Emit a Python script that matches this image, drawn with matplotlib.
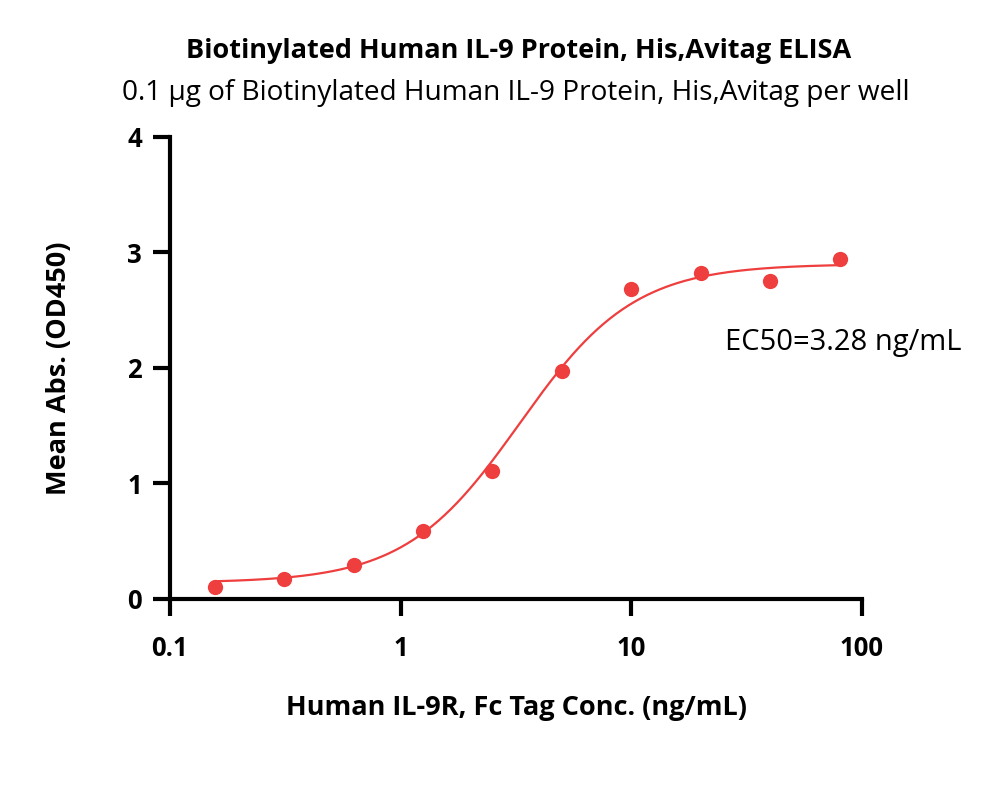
import numpy as np
import matplotlib.pyplot as plt

# Data
conc = [0.15625, 0.3125, 0.625, 1.25, 2.5, 5, 10, 20, 40, 80]
od450 = [0.10, 0.17, 0.29, 0.59, 1.11, 1.97, 2.68, 2.82, 2.75, 2.94]

# 4PL fit parameters (EC50 from the chart label)
bottom = 0.14
top = 2.90
ec50 = 3.28
hill = 1.75

title = "Biotinylated Human IL-9 Protein, His,Avitag ELISA"
subtitle = "0.1 \u03bcg of Biotinylated Human IL-9 Protein, His,Avitag per well"
xlabel = "Human IL-9R, Fc Tag Conc. (ng/mL)"
ylabel = "Mean Abs. (OD450)"
ec50_text = "EC50=3.28 ng/mL"

red = '#EE3E3E'
plt.rcParams['font.family'] = ['Open Sans', 'DejaVu Sans']

fig = plt.figure(figsize=(10, 7.96), dpi=100)
ax = fig.add_axes([0.17, 0.2475, 0.692, 0.5805])

xs = np.logspace(np.log10(conc[0]), np.log10(conc[-1]), 300)
curve = bottom + (top - bottom) / (1 + (ec50 / xs) ** hill)
ax.plot(xs, curve, color=red, lw=1.6)
ax.plot(conc, od450, 'o', color=red, ms=11, mec='none')

ax.set_xscale('log')
ax.set_xlim(0.1, 100)
ax.set_ylim(0, 4)
ax.set_xticks([0.1, 1, 10, 100])
ax.set_xticklabels(['0.1', '1', '10', '100'])
ax.set_yticks([0, 1, 2, 3, 4])
ax.xaxis.set_minor_locator(plt.NullLocator())

for s in ['top', 'right']:
    ax.spines[s].set_visible(False)
for s in ['left', 'bottom']:
    ax.spines[s].set_linewidth(3)
ax.tick_params(width=3, length=12, labelsize=18.5, pad=8)
for lab in ax.get_xticklabels() + ax.get_yticklabels():
    lab.set_fontweight('bold')
ax.tick_params(axis='x', pad=14)

ax.set_xlabel(xlabel, fontsize=19.5, fontweight='bold', labelpad=24)
ax.set_ylabel(ylabel, fontsize=19.5, fontweight='bold', labelpad=40)

ax.text(0.802, 0.555, ec50_text, transform=ax.transAxes, fontsize=21, ha='left', va='center')

fig.text(0.519, 0.936, title, fontsize=19.5, fontweight='bold', ha='center', va='center')
fig.text(0.516, 0.883, subtitle, fontsize=20.2, ha='center', va='center')

fig.savefig('out.png', dpi=100)
